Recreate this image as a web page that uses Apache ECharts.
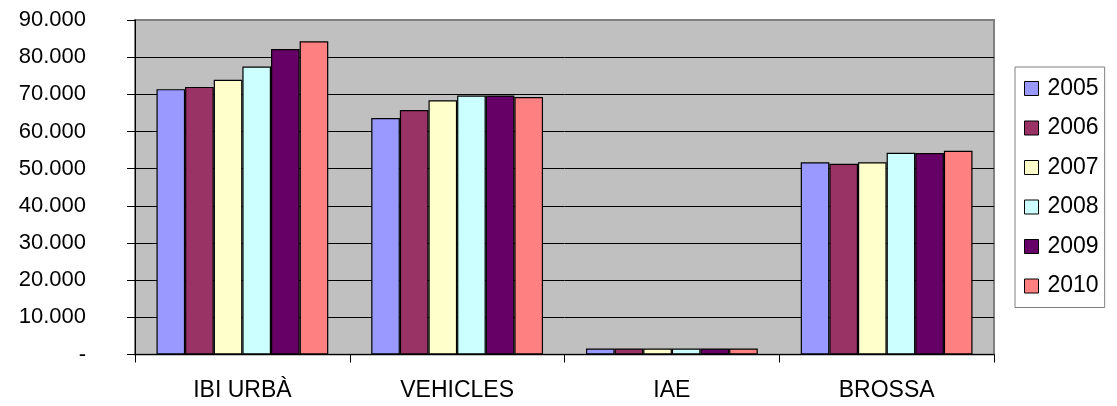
<!DOCTYPE html>
<html>
<head>
<meta charset="utf-8">
<script src="https://cdn.jsdelivr.net/npm/echarts@6/dist/echarts.min.js"></script>
<style>
html,body{margin:0;padding:0;background:#fff;}
#chart{width:1117px;height:406px;}
</style>
</head>
<body>
<div id="chart"></div>
<script>
const categories = ['IBI URBÀ', 'VEHICLES', 'IAE', 'BROSSA'];
const years = ['2005', '2006', '2007', '2008', '2009', '2010'];
const v2005 = [71400, 63600, 1600, 51700];
const v2006 = [72000, 65800, 1600, 51300];
const v2007 = [73900, 68400, 1600, 51700];
const v2008 = [77500, 69700, 1600, 54300];
const v2009 = [82200, 69700, 1600, 54200];
const v2010 = [84300, 69300, 1600, 54800];
const seriesValues = [v2005, v2006, v2007, v2008, v2009, v2010];
const colors = ['#9999FF', '#993366', '#FFFFCC', '#CCFFFF', '#660066', '#FF8080'];

const fontFamily = 'Liberation Sans, Arial, Helvetica, sans-serif';
function fmt(v) {
  if (v === 0) return '-';
  return String(v).replace(/\B(?=(\d{3})+(?!\d))/g, '.');
}

const chart = echarts.init(document.getElementById('chart'), null, {renderer: 'canvas'});
chart.setOption({
  animation: false,
  backgroundColor: '#ffffff',
  textStyle: {fontFamily: fontFamily, color: '#000'},
  grid: {
    left: 135, right: 123, top: 20, bottom: 51.5,
    show: true, backgroundColor: '#C0C0C0', borderColor: '#808080', borderWidth: 2,
    containLabel: false
  },
  legend: {
    orient: 'vertical',
    left: 1015, top: 67,
    padding: [10, 6, 10, 9],
    itemGap: 16.5,
    itemWidth: 14, itemHeight: 14,
    icon: 'rect',
    borderColor: '#808080', borderWidth: 1,
    backgroundColor: '#ffffff',
    itemStyle: {borderColor: '#000', borderWidth: 1},
    textStyle: {fontFamily: fontFamily, fontSize: 23, color: '#000', padding: [0, 0, 0, 4], lineHeight: 23},
    data: years
  },
  xAxis: {
    type: 'category',
    data: categories,
    boundaryGap: true,
    axisLine: {show: true, lineStyle: {color: '#000', width: 1}},
    axisTick: {show: true, length: 8, lineStyle: {color: '#000', width: 1}},
    axisLabel: {fontFamily: fontFamily, fontSize: 23, color: '#000', margin: 25},
    splitLine: {show: false}
  },
  yAxis: {
    type: 'value',
    min: 0, max: 90000, interval: 10000,
    axisLine: {show: true, lineStyle: {color: '#000', width: 1}},
    axisTick: {show: true, length: 8, lineStyle: {color: '#000', width: 1}},
    axisLabel: {fontFamily: fontFamily, fontSize: 22, color: '#000', margin: 49, formatter: fmt},
    splitLine: {show: true, showMaxLine: false, lineStyle: {color: '#000', width: 1}}
  },
  series: years.map((y, i) => ({
    name: y,
    type: 'bar',
    data: seriesValues[i],
    barGap: '0%',
    barCategoryGap: '20%',
    itemStyle: {color: colors[i], borderColor: '#000', borderWidth: 1.2}
  }))
});
</script>
</body>
</html>
